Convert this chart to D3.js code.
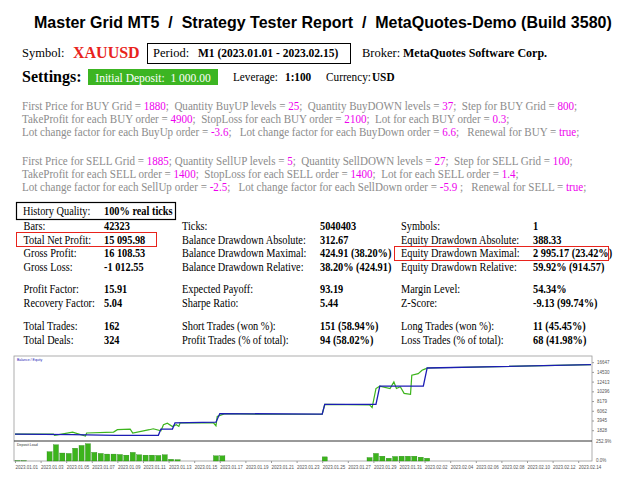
<!DOCTYPE html>
<html><head><meta charset="utf-8">
<script src="https://cdn.jsdelivr.net/npm/d3@7"></script>
<style>body{margin:0;background:#fff}</style></head>
<body><svg id="c" width="640" height="480"></svg>
<script>
// Balance curve: [day index from 2023.01.01, balance]
const balance=[[0,1000],[4.5,856],[7.9,712],[11.2,712],[11.4,2078],[12.3,2078],[12.5,3444],[15.7,3588],[16.0,5458],[24.0,5314],[24.2,7471],[28.2,7471],[28.5,11426],[31.9,11426],[32.2,15380],[45,16096]];
const equity=[[0,1000],[3.0,1000],[3.1,712],[4.5,1430],[5.5,570],[5.6,1220],[7.7,1430],[8.0,1940],[9.0,2080],[9.2,1220],[10.5,1940],[10.8,2150],[11.4,1720],[11.6,3010],[11.9,3370],[12.3,2650],[12.6,3010],[12.8,2650],[12.9,3440],[15.5,3440],[15.7,2800],[15.8,4810],[16.4,5450],[19.3,5310],[24.0,5310],[24.2,7470],[27.7,7330],[27.9,6750],[28.2,10900],[28.5,11430],[29.3,10900],[29.6,12330],[29.8,10900],[30.1,11290],[30.4,9860],[30.9,9640],[31.0,13800],[31.5,14160],[31.8,14880],[32.1,15240],[32.2,15380],[45,16096]];
const load=[3,3,0,0,0,124,216,106,101,170,207,230,115,101,92,92,87,78,115,83,78,78,74,83,23,18,0,0,0,0,0,69,69,0,0,0,0,0,0,0,0,0,0,0,0,0,0,0,55,0,0,0,0,0,0,46,101,64,37,60,64,64,64,51,37];
const yTicks=[1828,3945,6062,8179,10296,12413,14530,16647];
const xTickLabels=["2023.01.01","2023.01.03","2023.01.05","2023.01.07","2023.01.09","2023.01.11","2023.01.13","2023.01.15","2023.01.17","2023.01.19","2023.01.21","2023.01.23","2023.01.25","2023.01.27","2023.01.29","2023.01.31","2023.02.02","2023.02.04","2023.02.06","2023.02.08","2023.02.10","2023.02.12","2023.02.14"];
const buyParams=[[["First Price for BUY Grid = ","1880"],[";  Quantity BuyUP levels = ","25"],[";  Quantity BuyDOWN levels = ","37"],[";  Step for BUY Grid = ","800"],[";",""]],
[["TakeProfit for each BUY order = ","4900"],[";  StopLoss for each BUY order = ","2100"],[";  Lot for each BUY order = ","0.3"],[";",""]],
[["Lot change factor for each BuyUp order = ","-3.6"],[";   Lot change factor for each BuyDown order = ","6.6"],[";   Renewal for BUY = ","true"],[";",""]]];
const sellParams=[[["First Price for SELL Grid = ","1885"],["; Quantity SellUP levels = ","5"],[";  Quantity SellDOWN levels = ","27"],[";  Step for SELL Grid = ","100"],[";",""]],
[["TakeProfit for each SELL order = ","1400"],[";  StopLoss for each SELL order = ","1400"],[";  Lot for each SELL order = ","1.4"],[";",""]],
[["Lot change factor for each SellUp order = ","-2.5"],[";   Lot change factor for each SellDown order = ","-5.9 "],[";   Renewal for SELL = ","true"],[";",""]]];
const stats=[
[["Bars:","42323"],["Ticks:","5040403"],["Symbols:","1"]],
[["Total Net Profit:","15 095.98"],["Balance Drawdown Absolute:","312.67"],["Equity Drawdown Absolute:","388.33"]],
[["Gross Profit:","16 108.53"],["Balance Drawdown Maximal:","424.91 (38.20%)"],["Equity Drawdown Maximal:","2 995.17 (23.42%)"]],
[["Gross Loss:","-1 012.55"],["Balance Drawdown Relative:","38.20% (424.91)"],["Equity Drawdown Relative:","59.92% (914.57)"]],
[["Profit Factor:","15.91"],["Expected Payoff:","93.19"],["Margin Level:","54.34%"]],
[["Recovery Factor:","5.04"],["Sharpe Ratio:","5.44"],["Z-Score:","-9.13 (99.74%)"]],
[["Total Trades:","162"],["Short Trades (won %):","151 (58.94%)"],["Long Trades (won %):","11 (45.45%)"]],
[["Total Deals:","324"],["Profit Trades (% of total):","94 (58.02%)"],["Loss Trades (% of total):","68 (41.98%)"]]];
const statY=[230,243.5,257,270.5,293,306.5,330,343.5];

const svg=d3.select("#c");
const serif="Liberation Serif, Times New Roman, serif";
function t(x,y,s,o={}){const e=svg.append("text").attr("x",x).attr("y",y).text(s)
 .attr("font-family",o.f||serif).attr("font-size",o.s||12).attr("font-weight",o.w||"normal")
 .attr("fill",o.c||"#000").attr("text-anchor",o.a||"start").attr("xml:space","preserve");
 return e;}
function squeeze(e,k){const w=e.node().getComputedTextLength();e.attr("textLength",w*k).attr("lengthAdjust","spacingAndGlyphs");return e;}
squeeze(t(34,28,"Master Grid MT5  /  Strategy Tester Report  /  MetaQuotes-Demo (Build 3580)",{f:"Liberation Sans, Arial",s:16.5,w:"bold"}),0.97);
t(22,57,"Symbol:",{s:12.5});
t(73,58,"XAUUSD",{s:16,w:"bold",c:"#e8231c"});
svg.append("rect").attr("x",147.5).attr("y",43.5).attr("width",203).attr("height",20).attr("fill","none").attr("stroke","#000");
t(153,57,"Period:",{s:12.5});
squeeze(t(198,57,"M1 (2023.01.01 - 2023.02.15)",{s:12.5,w:"bold"}),0.92);
t(362,57,"Broker:",{s:12.5});
squeeze(t(403,57,"MetaQuotes Software Corp.",{s:12.5,w:"bold"}),0.96);
t(22,82,"Settings:",{s:16,w:"bold"});
svg.append("rect").attr("x",88).attr("y",69).attr("width",130).attr("height",16).attr("fill","#3cb522");
squeeze(t(153,81.5,"Initial Deposit:  1 000.00",{s:12.5,c:"#fff",a:"middle"}),0.92);
squeeze(t(233,81,"Leverage:",{s:12.5}),0.9); squeeze(t(285,81,"1:100",{s:12.5,w:"bold"}),0.9);
squeeze(t(326,81,"Currency:",{s:12.5}),0.9); squeeze(t(372,81,"USD",{s:12.5,w:"bold"}),0.9);

function params(rows,y0){
 rows.forEach((r,i)=>{
  const tx=t(22,y0+i*13,"",{s:12,c:"#8c8c8c"});
  r.forEach(([a,b])=>{tx.append("tspan").text(a);if(b)tx.append("tspan").attr("fill","#ee00ee").text(b);});
  squeeze(tx,0.92);
 });
}
params(buyParams,110); params(sellParams,165);

svg.append("rect").attr("x",16.5).attr("y",202.5).attr("width",159).attr("height",17).attr("fill","none").attr("stroke","#000").attr("stroke-width",1.2);
squeeze(t(23,215,"History Quality:",{s:12}),0.86); squeeze(t(104,215,"100% real ticks",{s:12,w:"bold"}),0.86);
const cx=[[23.5,104],[182,320],[401,533]];
stats.forEach((r,i)=>{ const y=statY[i];
 r.forEach(([a,b],j)=>{squeeze(t(cx[j][0],y,a,{s:12}),0.86);squeeze(t(cx[j][1],y,b,{s:12,w:"bold"}),0.86);});
});
svg.append("rect").attr("x",16.5).attr("y",232.5).attr("width",140).attr("height",14).attr("fill","none").attr("stroke","#e8231c");
svg.append("rect").attr("x",394.5).attr("y",246.5).attr("width",214).attr("height",14).attr("fill","none").attr("stroke","#e8231c");

// chart
const L=14,R=592,T=356,M=441,B=461;
svg.append("rect").attr("x",L).attr("y",T).attr("width",R-L).attr("height",B-T).attr("fill","#fff").attr("stroke","#999").attr("stroke-width",0.8);
const x=d3.scaleLinear().domain([0,45]).range([L+1,R-1]);
const y=d3.scaleLinear().domain([-300,16900]).range([M-1,T+5]);
const yl=d3.scaleLinear().domain([0,252.9]).range([B,M+1]);
const line=d3.line().x(d=>x(d[0])).y(d=>y(d[1]));
svg.append("path").datum(equity).attr("d",line).attr("fill","none").attr("stroke","#3cb41c").attr("stroke-width",1.2);
svg.append("path").datum(balance).attr("d",line).attr("fill","none").attr("stroke","#1c1cb4").attr("stroke-width",1.3);
svg.append("line").attr("x1",L).attr("x2",R).attr("y1",M).attr("y2",M).attr("stroke","#333").attr("stroke-width",1);
svg.append("g").selectAll("rect").data(load).join("rect")
 .attr("x",(d,i)=>x(i*0.5)).attr("width",x(0.4)-x(0)).attr("y",d=>yl(d)).attr("height",d=>B-yl(d))
 .attr("fill","#3cb41c").attr("stroke","#1e7a0e").attr("stroke-width",0.3);
const ya=svg.append("g").attr("transform",`translate(${R},0)`).call(d3.axisRight(y).tickValues(yTicks).tickSize(2).tickFormat(d3.format("d")));
ya.selectAll("text").attr("font-size",4.5).attr("fill","#555"); ya.select(".domain").remove(); ya.selectAll("line").attr("stroke","#999");
t(596,443,"252.9%",{s:4.5,f:"Arial",c:"#555"}); t(596,462,"0.0%",{s:4.5,f:"Arial",c:"#555"});
const xa=svg.append("g").attr("transform",`translate(0,${B})`).call(d3.axisBottom(x).tickValues(xTickLabels.map((d,i)=>i*2)).tickSize(2).tickFormat((d,i)=>xTickLabels[i]));
xa.selectAll("text").attr("font-size",4.5).attr("fill","#555").attr("text-anchor","start"); xa.select(".domain").remove(); xa.selectAll("line").attr("stroke","#999");
t(17,361,"Balance / Equity",{s:3.5,f:"Arial",c:"#1c1cb4"});
t(17,446,"Deposit Load",{s:3.5,f:"Arial",c:"#333"});
</script></body></html>
